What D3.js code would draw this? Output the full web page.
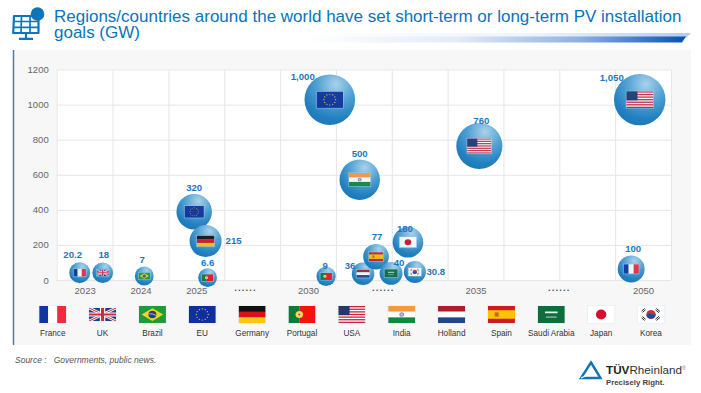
<!DOCTYPE html>
<html><head><meta charset="utf-8">
<script src="https://cdn.jsdelivr.net/npm/d3@7/dist/d3.min.js"></script>
<style>
html,body{margin:0;padding:0;background:#fff}
svg{display:block;font-family:"Liberation Sans",Arial,sans-serif}
</style></head><body><div id="c"></div>
<script>
// ---- data ----
const titleLines = ["Regions/countries around the world have set short-term or long-term PV installation", "goals (GW)"];
const sourceText = "Source :   Governments, public news.";
const yTicks = [0, 200, 400, 600, 800, 1000, 1200];
const xTickSlots = [0, 1, 2, 2.87, 4, 5.34, 7, 8.49, 10];
const xTickLabels = ["2023", "2024", "2025", "......", "2030", "......", "2035", "......", "2050"];
const legendCountries = ["France", "UK", "Brazil", "EU", "Germany", "Portugal", "USA", "India", "Holland", "Spain", "Saudi Arabia", "Japan", "Korea"];
const bubbleCountries = ["France","UK","Brazil","EU","Germany","Portugal","Portugal","EU","India","USA","USA","Holland","Spain","Saudi Arabia","Japan","Korea","France"];
const bubbleValues    = [20.2, 18, 7, 320, 215, 6.6, 9, 1000, 500, 760, 1050, 36, 77, 40, 180, 30.8, 100];
// horizontal slot on the year axis and height on the GW axis, as drawn in the picture
const bubbleSlots     = [-0.088, 0.324, 1.068, 1.962, 2.166, 2.202, 4.324, 4.39, 4.926, 7.068, 9.94, 4.986, 5.218, 5.487, 5.79, 5.913, 9.787];
const bubbleHeights   = [41.6, 41.6, 23, 389, 222, 13, 21, 1028, 572, 764, 1028, 36, 133, 38, 215, 46, 63];

// ---- layout ----
const W = 701, H = 393;
const plot = {l: 56.7, r: 671, t: 69.5, b: 280};
const labelNudge = [[-7,-18.5],[1,-18.5],[-2,-16.7],[0,-24.7],[28,-1],[0,-15.7],[-1,-11.3],[-27,-23],[0,-26],[2,-25.3],[-28,-21.7],[-13,-7.7],[1,-19.7],[8,-11.3],[-3,-13.3],[21,0],[2,-20.7]];

const svg = d3.select("#c").append("svg").attr("width", W).attr("height", H);
const defs = svg.append("defs");

// gradients
const bg = defs.append("radialGradient").attr("id","bub").attr("cx",.62).attr("cy",.2).attr("r",.85);
[[0,"#a9d2ea"],[.45,"#4f9fd2"],[.8,"#2280bf"],[1,"#1a78b9"]].forEach(s=>bg.append("stop").attr("offset",s[0]).attr("stop-color",s[1]));
const hb = defs.append("linearGradient").attr("id","hbar");
[[0,"#ffffff"],[.4,"#e3ebf7"],[.72,"#8fb1e0"],[1,"#0a50b4"]].forEach(s=>hb.append("stop").attr("offset",s[0]).attr("stop-color",s[1]));
const hl = defs.append("linearGradient").attr("id","hbar2");
[[0,"#ffffff"],[.6,"#eef3fb"],[1,"#b4cbee"]].forEach(s=>hl.append("stop").attr("offset",s[0]).attr("stop-color",s[1]));

// header
svg.append("path").attr("d","M305,33H691L686,38H305Z").attr("fill","url(#hbar2)");
svg.append("path").attr("d","M305,36.5H686L682,42.5H305Z").attr("fill","url(#hbar)");
svg.append("g").selectAll("text").data(titleLines).join("text")
  .attr("x",54).attr("y",(d,i)=>21.5+i*16).attr("fill","#0b73b9")
  .attr("font-size",17).text(d=>d);

// solar panel icon
const ic = svg.append("g").attr("fill","none").attr("stroke","#0f74ba");
ic.append("path").attr("stroke-width",2.2).attr("stroke-linejoin","round")
  .attr("fill","#fff").attr("d","M14,16H38.5V33H13.2Z");
ic.append("path").attr("stroke-width",1.7).attr("d","M13.5,21.5H38.7M13.3,27.3H38.7M21.5,16L21,33M30,16V33");
ic.append("path").attr("stroke-width",2.2).attr("d","M26,33V38.5M19,38.8H33");
ic.append("circle").attr("cx",37.5).attr("cy",14).attr("r",6.8).attr("fill","#0f74ba").attr("stroke","none");

// panel
svg.append("rect").attr("x",13).attr("y",50).attr("width",678).attr("height",295).attr("fill","#f7f7f7");
svg.append("line").attr("x1",13.5).attr("x2",13.5).attr("y1",50).attr("y2",345).attr("stroke","#3a83c4").attr("stroke-width",1.5);
svg.append("rect").attr("x",plot.l).attr("y",plot.t).attr("width",plot.r-plot.l).attr("height",plot.b-plot.t).attr("fill","#fff");

// scales
const x = d3.scaleLinear().domain([-0.5,10.5]).range([plot.l,plot.r]);
const y = d3.scaleLinear().domain([0,1200]).range([plot.b,plot.t]);
const r = d3.scaleSqrt().domain([0,1050]).range([8,25.7]);
const legendX = d3.scalePoint().domain(legendCountries).range([52.7,651]);

// grid + axes
const yAxis = svg.append("g").attr("transform",`translate(${plot.l},0)`)
  .call(d3.axisLeft(y).tickValues(yTicks).tickSize(-(plot.r-plot.l)).tickPadding(8).tickFormat(d3.format("d")));
yAxis.select(".domain").remove();
yAxis.selectAll("line").attr("stroke","#e6e6e6");
yAxis.selectAll("text").attr("font-size",9.5).attr("fill","#666").attr("font-family","inherit");

const gridG = svg.append("g").attr("transform",`translate(0,${plot.b})`)
  .call(d3.axisBottom(x).tickValues(d3.range(-0.5,10.6,1)).tickSize(-(plot.b-plot.t)).tickFormat(""));
gridG.select(".domain").remove();
gridG.selectAll("line").attr("stroke","#e6e6e6");

const xAxis = svg.append("g").attr("transform",`translate(0,${plot.b})`)
  .call(d3.axisBottom(x).tickValues(xTickSlots).tickSize(0).tickPadding(7).tickFormat(d=>xTickLabels[xTickSlots.indexOf(d)]));
xAxis.select(".domain").remove();
xAxis.selectAll("text").attr("font-size",9.5).attr("fill","#666").attr("font-family","inherit")
  .filter(d=>xTickLabels[xTickSlots.indexOf(d)]==="......").attr("font-weight","bold").attr("letter-spacing",1.1).attr("fill","#555").attr("dy","0.4em");

// flags, each in a 30x20 viewBox
function flag(sel, name, w, h){
  const f = sel.append("svg").attr("x",-w/2).attr("y",-h/2).attr("width",w).attr("height",h)
    .attr("viewBox","0 0 30 20").attr("preserveAspectRatio","none");
  const R=(x,y,a,b,c)=>f.append("rect").attr("x",x).attr("y",y).attr("width",a).attr("height",b).attr("fill",c);
  const C=(x,y,q,c)=>f.append("circle").attr("cx",x).attr("cy",y).attr("r",q).attr("fill",c);
  const L=(d,c,s)=>f.append("path").attr("d",d).attr("stroke",c).attr("stroke-width",s).attr("fill","none");
  if(name==="France"){R(0,0,10,20,"#10359c");R(10,0,10,20,"#fff");R(20,0,10,20,"#ef2b3e");}
  else if(name==="UK"){R(0,0,30,20,"#1f3c88");L("M0,0L30,20M30,0L0,20","#fff",4);L("M0,0L30,20M30,0L0,20","#d5283c",1.4);L("M15,0V20M0,10H30","#fff",6);L("M15,0V20M0,10H30","#d5283c",3.4);}
  else if(name==="Brazil"){R(0,0,30,20,"#1f9a3c");f.append("path").attr("d","M15,2.5L27,10L15,17.5L3,10Z").attr("fill","#f7d417");C(15,10,4.4,"#1d3f8f");L("M10.8,9.2Q15,8.6 19.2,11","#fff",.7);}
  else if(name==="EU"){R(0,0,30,20,"#0f2f9c");d3.range(12).forEach(i=>C(15+6.6*Math.sin(i*Math.PI/6),10-6.6*Math.cos(i*Math.PI/6),.75,"#e8c52c"));}
  else if(name==="Germany"){R(0,0,30,7,"#111");R(0,6.7,30,7,"#d8121c");R(0,13.4,30,6.6,"#f8c812");}
  else if(name==="Portugal"){R(0,0,12,20,"#0d7a38");R(12,0,18,20,"#f2130f");C(12,10,4.2,"#f1d23a");C(12,10,2.4,"#e8e4d8");C(12,10,1.3,"#c4332c");}
  else if(name==="USA"){R(0,0,30,20,"#fff");d3.range(7).forEach(i=>R(0,i*2*20/13,30,20/13,"#c8263f"));R(0,0,12.5,10.8,"#24376f");}
  else if(name==="India"){R(0,0,30,6.7,"#f9983a");R(0,6.7,30,6.7,"#fff");R(0,13.4,30,6.6,"#14883a");C(15,10,2.7,"#8a88b8");C(15,10,1.2,"#d9d8e8");}
  else if(name==="Holland"){R(0,0,30,6.7,"#ae1c28");R(0,6.7,30,6.7,"#fff");R(0,13.4,30,6.6,"#21468b");}
  else if(name==="Spain"){R(0,0,30,20,"#cb1b25");R(0,5,30,10,"#fbc400");R(7.5,7.5,4.5,5,"#c4692a");}
  else if(name==="Saudi Arabia"){R(0,0,30,20,"#0d6e3c");L("M8,7.5H22","#e8f2ea",2);L("M9,13H21","#d6e8da",1);}
  else if(name==="Japan"){R(0,0,30,20,"#fff");C(15,10,5.8,"#d3102e");}
  else if(name==="Korea"){R(0,0,30,20,"#fff");C(15,10,5.2,"#cd2e3a");f.append("path").attr("d","M9.9,10.9A5.2,5.2 0 0 0 20.1,9.1C18,12 15,8.5 13,9C11,9.5 10.5,10 9.9,10.9Z").attr("fill","#0f4fa0");
    L("M4.5,6L8,3M5.5,7.5L9,4.5M21,3L25,6.5M20,4.5L24,8M4.5,14L8,17M5.5,12.5L9,15.5M21,17L25,13.5M20,15.5L24,12","#222",1.1);}
}

// bubbles
const data = bubbleValues.map((v,i)=>({v, name:bubbleCountries[i], s:bubbleSlots[i], h:bubbleHeights[i], n:labelNudge[i]}));
const fmt = d3.format(",");
const bub = svg.append("g").selectAll("g").data(data).join("g")
  .attr("transform",d=>`translate(${x(d.s)},${y(d.h)})`);
bub.append("circle").attr("r",d=>r(d.v)).attr("fill","url(#bub)");
bub.each(function(d){
  const rr=r(d.v), w=rr*.95+2.5, h=w*(d.name==="UK"?.52:.62);
  const g=d3.select(this).append("g").attr("opacity",.9);
  g.append("rect").attr("x",-w/2-.6).attr("y",-h/2-.6).attr("width",w+1.2).attr("height",h+1.2).attr("fill","#bcdcf0").attr("opacity",.55);
  flag(g,d.name,w,h);
});
svg.append("g").selectAll("text").data(data).join("text")
  .attr("x",d=>x(d.s)+d.n[0]).attr("y",d=>y(d.h)+d.n[1])
  .attr("text-anchor","middle").attr("dominant-baseline","central")
  .attr("font-size",9.6).attr("font-weight","bold").attr("fill","#1a78c2").text(d=>fmt(d.v));

// legend
const leg = svg.append("g").selectAll("g").data(legendCountries).join("g")
  .attr("transform",d=>`translate(${legendX(d)},314.5)`);
leg.each(function(d){
  const w=27,h=d==="UK"?13:17;
  const g=d3.select(this);
  g.append("rect").attr("x",-w/2-.7).attr("y",-h/2-.7).attr("width",w+1.4).attr("height",h+1.4).attr("fill","#e4eff7");
  flag(g,d,w,h);
});
leg.append("text").attr("y",18.5).attr("text-anchor","middle").attr("dominant-baseline","central")
  .attr("font-size",8.2).attr("fill","#333").text(d=>d);

// source
svg.append("text").attr("x",15).attr("y",362.5).attr("font-size",8.5).attr("font-style","italic").attr("fill","#555").attr("xml:space","preserve").text(sourceText);

// logo
svg.append("path").attr("d","M591,362.5L600.5,378H581Z").attr("fill","none").attr("stroke","#0f74ba").attr("stroke-width",2.4).attr("stroke-linejoin","miter");
svg.append("path").attr("d","M581,378L594,372").attr("stroke","#fff").attr("stroke-width",1.2);
const lg = svg.append("text").attr("x",606).attr("y",374).attr("font-size",11.7).attr("fill","#222");
lg.append("tspan").attr("font-weight","bold").text("TÜV");
lg.append("tspan").attr("fill","#333").text("Rheinland");
lg.append("tspan").attr("font-size",5).attr("dy",-4).attr("fill","#777").text("®");
svg.append("text").attr("x",606).attr("y",385).attr("font-size",7.8).attr("font-weight","bold").attr("fill","#444").text("Precisely Right.");
</script></body></html>
